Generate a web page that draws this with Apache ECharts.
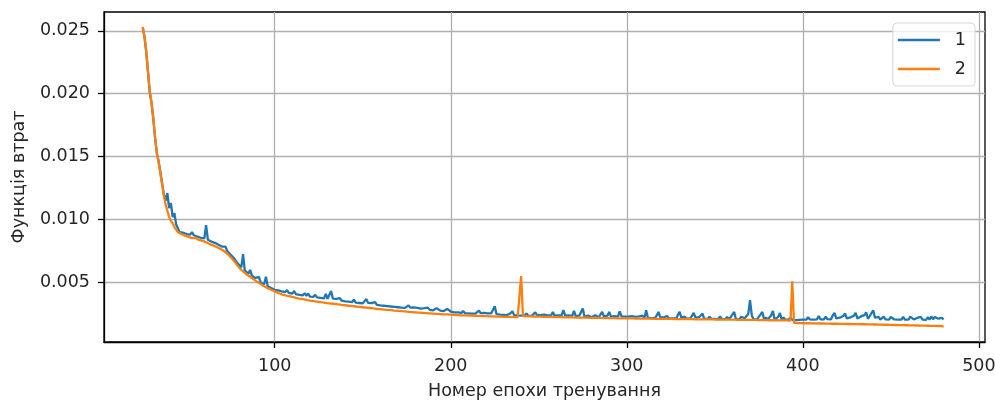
<!DOCTYPE html>
<html>
<head>
<meta charset="utf-8">
<script src="https://cdn.jsdelivr.net/npm/echarts@6/dist/echarts.min.js"></script>
<style>
  html, body { margin: 0; padding: 0; background: #fff; }
  #chart { width: 995px; height: 401px; }
</style>
</head>
<body>
<div id="chart"></div>
<script>
// Training loss per epoch for two runs, epochs 25..480
const firstEpoch = 25;

const lossRun1 = [
  0.02525,0.02450,0.02330,0.02170,0.02010,0.01925,0.01800,0.01650,0.01525,0.01465,
  0.01380,0.01290,0.01200,0.01150,0.01210,0.01090,0.01130,0.01020,0.01050,0.00960,
  0.00930,0.00900,0.00915,0.00895,0.00905,0.00885,0.00895,0.00880,0.00900,0.00875,
  0.00880,0.00865,0.00870,0.00855,0.00860,0.00850,0.00955,0.00840,0.00835,0.00825,
  0.00840,0.00815,0.00805,0.00800,0.00790,0.00785,0.00775,0.00785,0.00750,0.00735,
  0.00720,0.00705,0.00690,0.00670,0.00650,0.00635,0.00620,0.00725,0.00595,0.00580,
  0.00570,0.00600,0.00555,0.00540,0.00535,0.00520,0.00545,0.00500,0.00495,0.00485,
  0.00545,0.00470,0.00460,0.00455,0.00450,0.00442,
  0.00445,0.00438,0.00450,0.00430,0.00436,0.00424,0.00440,0.00418,0.00425,0.00412,
  0.00432,0.00408,0.00415,0.00402,0.00410,0.00398,0.00415,0.00394,0.00412,0.00388,
  0.00395,0.00386,0.00402,0.00381,0.00388,0.00378,0.00392,0.00373,0.00410,0.00370,
  0.00378,0.00432,0.00372,0.00362,0.00370,0.00358,0.00375,0.00355,0.00362,0.00350,
  0.00360,0.00347,0.00355,0.00343,0.00365,0.00340,0.00352,0.00337,0.00346,0.00334,
  0.00348,0.00368,0.00338,0.00328,0.00336,0.00325,0.00344,0.00322,0.00330,0.00318,
  0.00326,0.00315,0.00328,0.00312,0.00320,0.00309,0.00318,0.00306,0.00312,0.00303,
  0.00311,0.00300,0.00308,0.00298,0.00312,0.00318,0.00300,0.00293,0.00302,0.00290,
  0.00298,0.00306,0.00293,0.00286,0.00296,0.00284,0.00300,0.00282,0.00290,0.00279,
  0.00286,0.00296,0.00282,0.00276,0.00284,0.00273,0.00280,0.00290,0.00276,0.00269,
  0.00272,0.00263,0.00276,0.00262,0.00268,0.00258,0.00274,0.00257,0.00263,0.00255,
  0.00262,0.00253,0.00260,0.00252,0.00262,0.00276,0.00256,0.00249,0.00258,0.00272,
  0.00254,0.00247,0.00255,0.00262,0.00311,0.00248,0.00252,0.00244,0.00250,0.00243,
  0.00249,0.00241,0.00248,0.00256,0.00272,0.00241,0.00246,0.00238,0.00244,0.00237,
  0.00245,0.00237,0.00254,0.00236,0.00243,0.00235,0.00244,0.00262,0.00240,0.00233,
  0.00241,0.00233,0.00244,0.00250,0.00238,0.00231,0.00240,0.00266,0.00236,0.00230,
  0.00238,0.00229,0.00240,0.00280,0.00236,0.00228,0.00238,0.00245,0.00234,0.00274,
  0.00233,0.00226,0.00236,0.00250,0.00293,0.00226,0.00232,0.00238,0.00230,0.00224,
  0.00232,0.00240,0.00229,0.00223,0.00232,0.00266,0.00230,0.00222,0.00236,0.00266,
  0.00229,0.00221,0.00232,0.00240,0.00228,0.00271,0.00230,0.00220,0.00228,0.00219,
  0.00228,0.00220,0.00232,0.00219,0.00226,0.00218,0.00230,0.00217,0.00236,0.00218,
  0.00279,0.00219,0.00226,0.00216,0.00230,0.00216,0.00238,0.00266,0.00222,0.00215,
  0.00225,0.00215,0.00232,0.00214,0.00224,0.00214,0.00229,0.00214,0.00242,0.00266,
  0.00221,0.00213,0.00228,0.00212,0.00222,0.00213,0.00234,0.00258,0.00220,0.00211,
  0.00224,0.00212,0.00253,0.00211,0.00220,0.00210,0.00228,0.00211,0.00226,0.00210,
  0.00221,0.00209,0.00230,0.00209,0.00219,0.00210,0.00226,0.00208,0.00224,0.00238,
  0.00266,0.00209,0.00222,0.00207,0.00228,0.00234,0.00216,0.00208,0.00250,0.00359,
  0.00240,0.00207,0.00220,0.00206,0.00226,0.00230,0.00266,0.00206,0.00222,0.00206,
  0.00218,0.00238,0.00274,0.00205,0.00220,0.00226,0.00258,0.00204,0.00222,0.00204,
  0.00216,0.00204,0.00222,0.00203,
  0.00205,0.00200,0.00212,0.00203,0.00218,0.00205,0.00214,0.00204,0.00224,0.00206,
  0.00216,0.00205,0.00220,0.00206,0.00234,0.00207,0.00218,0.00206,0.00228,0.00208,
  0.00216,0.00207,0.00238,0.00258,0.00214,0.00206,0.00220,0.00207,0.00234,0.00253,
  0.00214,0.00206,0.00222,0.00228,0.00236,0.00258,0.00214,0.00207,0.00230,0.00215,
  0.00240,0.00262,0.00212,0.00232,0.00238,0.00279,0.00220,0.00208,0.00226,0.00206,
  0.00218,0.00228,0.00207,0.00222,0.00205,0.00226,0.00234,0.00206,0.00220,0.00205,
  0.00218,0.00204,0.00226,0.00205,0.00220,0.00204,0.00228,0.00234,0.00207,0.00204,
  0.00218,0.00204,0.00226,0.00205,0.00216,0.00203,0.00224,0.00205,0.00230,0.00208,
  0.00226,0.00234,0.00212,0.00205,0.00218,0.00206
];

const lossRun2 = [
  0.02530,0.02455,0.02340,0.02180,0.02020,0.01930,0.01810,0.01660,0.01530,0.01460,
  0.01370,0.01280,0.01190,0.01120,0.01070,0.01020,0.00990,0.00970,0.00940,0.00920,
  0.00900,0.00890,0.00885,0.00880,0.00872,0.00868,0.00862,0.00860,0.00852,0.00850,
  0.00855,0.00842,0.00838,0.00832,0.00830,0.00822,0.00820,0.00812,0.00805,0.00800,
  0.00795,0.00790,0.00782,0.00775,0.00768,0.00760,0.00752,0.00742,0.00730,0.00715,
  0.00700,0.00685,0.00668,0.00650,0.00632,0.00615,0.00600,0.00588,0.00575,0.00565,
  0.00555,0.00545,0.00535,0.00525,0.00515,0.00505,0.00495,0.00487,0.00478,0.00470,
  0.00462,0.00455,0.00448,0.00442,0.00436,0.00430,
  0.00428,0.00416,0.00424,0.00406,0.00414,0.00398,0.00408,0.00392,0.00398,0.00385,
  0.00392,0.00378,0.00388,0.00372,0.00380,0.00367,0.00378,0.00362,0.00372,0.00356,
  0.00366,0.00352,0.00362,0.00348,0.00358,0.00344,0.00352,0.00340,0.00350,0.00336,
  0.00346,0.00333,0.00342,0.00330,0.00338,0.00326,0.00336,0.00322,0.00332,0.00319,
  0.00328,0.00315,0.00325,0.00312,0.00322,0.00309,0.00319,0.00306,0.00316,0.00303,
  0.00312,0.00300,0.00309,0.00297,0.00306,0.00294,0.00303,0.00291,0.00300,0.00288,
  0.00297,0.00285,0.00295,0.00282,0.00292,0.00280,0.00289,0.00277,0.00287,0.00275,
  0.00284,0.00272,0.00282,0.00270,0.00280,0.00267,0.00277,0.00265,0.00275,0.00263,
  0.00273,0.00261,0.00271,0.00259,0.00269,0.00257,0.00267,0.00255,0.00265,0.00253,
  0.00263,0.00251,0.00261,0.00249,0.00259,0.00247,0.00257,0.00246,0.00255,0.00244,
  0.00253,0.00243,0.00251,0.00241,0.00249,0.00239,0.00248,0.00238,0.00246,0.00237,
  0.00245,0.00236,0.00244,0.00235,0.00243,0.00234,0.00242,0.00233,0.00241,0.00232,
  0.00240,0.00231,0.00239,0.00230,0.00238,0.00229,0.00237,0.00228,0.00236,0.00227,
  0.00235,0.00227,0.00234,0.00226,0.00233,0.00225,0.00232,0.00225,0.00236,0.00550,
  0.00232,0.00224,0.00231,0.00223,0.00230,0.00222,0.00229,0.00222,0.00228,0.00221,
  0.00228,0.00220,0.00227,0.00220,0.00226,0.00219,0.00226,0.00218,0.00225,0.00218,
  0.00224,0.00217,0.00224,0.00216,0.00223,0.00216,0.00222,0.00215,0.00222,0.00215,
  0.00221,0.00214,0.00221,0.00214,0.00220,0.00213,0.00220,0.00213,0.00219,0.00212,
  0.00219,0.00212,0.00218,0.00211,0.00218,0.00211,0.00217,0.00210,0.00217,0.00210,
  0.00216,0.00209,0.00216,0.00209,0.00215,0.00208,0.00215,0.00208,0.00215,0.00207,
  0.00214,0.00207,0.00214,0.00207,0.00213,0.00206,0.00213,0.00206,0.00213,0.00205,
  0.00212,0.00205,0.00212,0.00205,0.00211,0.00204,0.00211,0.00204,0.00211,0.00204,
  0.00210,0.00203,0.00210,0.00203,0.00210,0.00203,0.00209,0.00202,0.00209,0.00202,
  0.00209,0.00202,0.00208,0.00201,0.00208,0.00201,0.00208,0.00201,0.00207,0.00200,
  0.00207,0.00200,0.00207,0.00200,0.00206,0.00199,0.00206,0.00199,0.00206,0.00199,
  0.00205,0.00198,0.00205,0.00198,0.00205,0.00198,0.00204,0.00197,0.00204,0.00197,
  0.00204,0.00197,0.00203,0.00196,0.00203,0.00196,0.00203,0.00196,0.00202,0.00195,
  0.00202,0.00195,0.00202,0.00195,0.00201,0.00194,0.00201,0.00194,0.00201,0.00194,
  0.00200,0.00193,0.00200,0.00193,0.00200,0.00193,0.00199,0.00192,0.00199,0.00192,
  0.00199,0.00192,0.00198,0.00510,
  0.00180,0.00175,0.00178,0.00174,0.00177,0.00173,0.00176,0.00172,0.00176,0.00172,
  0.00175,0.00171,0.00175,0.00171,0.00174,0.00170,0.00174,0.00170,0.00173,0.00169,
  0.00173,0.00169,0.00172,0.00168,0.00172,0.00168,0.00171,0.00167,0.00171,0.00167,
  0.00170,0.00166,0.00170,0.00166,0.00169,0.00165,0.00169,0.00165,0.00168,0.00164,
  0.00168,0.00164,0.00167,0.00163,0.00167,0.00163,0.00166,0.00162,0.00165,0.00161,
  0.00165,0.00161,0.00164,0.00160,0.00163,0.00159,0.00163,0.00159,0.00162,0.00158,
  0.00161,0.00157,0.00161,0.00157,0.00160,0.00156,0.00159,0.00155,0.00159,0.00155,
  0.00158,0.00154,0.00157,0.00153,0.00157,0.00153,0.00156,0.00152,0.00155,0.00151,
  0.00155,0.00151,0.00154,0.00150,0.00153,0.00150
];

const seriesNames = ['1', '2'];
const xTickValues = [100, 200, 300, 400, 500];
const yTickValues = [0.005, 0.010, 0.015, 0.020, 0.025];
const xTitle = 'Номер епохи тренування';
const yTitle = 'Функція втрат';

const toPairs = arr => arr.map((v, i) => [firstEpoch + i, v]);

const FONT = 'DejaVu Sans';
const TEXT = '#262626';
const GRIDLINE = '#b0b0b0';

const chart = echarts.init(document.getElementById('chart'), null, { renderer: 'canvas' });

chart.setOption({
  backgroundColor: '#ffffff',
  animation: false,
  grid: {
    left: 104, top: 12, right: 10, bottom: 59,
    outerBoundsMode: 'none',
    show: true, borderColor: '#000', borderWidth: 1.3, backgroundColor: '#fff'
  },
  legend: {
    data: seriesNames.map(n => ({ name: n, icon: 'rect' })),
    orient: 'vertical',
    right: 20, top: 23,
    itemWidth: 42, itemHeight: 2.5, itemGap: 9,
    padding: [7, 9, 7, 5],
    backgroundColor: 'rgba(255,255,255,0.8)',
    borderColor: '#d6d6d6', borderWidth: 1, borderRadius: 4,
    textStyle: { fontFamily: FONT, fontSize: 17.5, color: TEXT, padding: [0, 0, 0, 10], lineHeight: 20 }
  },
  xAxis: {
    type: 'value', min: 3, max: 503.5,
    axisLine: { show: true, lineStyle: { color: '#000', width: 1.3 } },
    axisTick: { show: true, length: 6, lineStyle: { color: '#000', width: 1.3 }, customValues: xTickValues },
    axisLabel: {
      fontFamily: FONT, fontSize: 17.5, color: TEXT, margin: 15,
      customValues: xTickValues,
      formatter: v => xTickValues.includes(v) ? String(v) : ''
    },
    splitLine: { show: true, lineStyle: { color: GRIDLINE, width: 1.3 } },
    name: xTitle, nameLocation: 'middle', nameGap: 40,
    nameTextStyle: { fontFamily: FONT, fontSize: 17.5, color: TEXT }
  },
  yAxis: {
    type: 'value', min: 0.00027, max: 0.02649,
    axisLine: { show: true, lineStyle: { color: '#000', width: 1.3 } },
    axisTick: { show: true, length: 6, lineStyle: { color: '#000', width: 1.3 }, customValues: yTickValues },
    axisLabel: {
      fontFamily: FONT, fontSize: 17.5, color: TEXT, margin: 14,
      customValues: yTickValues,
      formatter: v => yTickValues.some(t => Math.abs(t - v) < 1e-9) ? v.toFixed(3) : ''
    },
    splitLine: { show: true, lineStyle: { color: GRIDLINE, width: 1.3 } },
    name: yTitle, nameLocation: 'middle', nameGap: 76,
    nameTextStyle: { fontFamily: FONT, fontSize: 17.5, color: TEXT }
  },
  series: [
    {
      name: seriesNames[0], type: 'line', data: toPairs(lossRun1),
      symbol: 'none', color: '#1f77b4',
      lineStyle: { width: 2.3, color: '#1f77b4' }
    },
    {
      name: seriesNames[1], type: 'line', data: toPairs(lossRun2),
      symbol: 'none', color: '#ff7f0e',
      lineStyle: { width: 2.3, color: '#ff7f0e' }
    }
  ]
});
</script>
</body>
</html>
